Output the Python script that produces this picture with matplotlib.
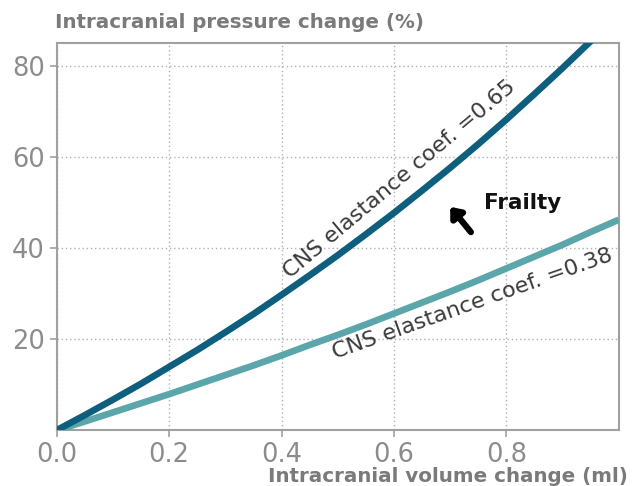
import matplotlib
matplotlib.use("Agg")
import matplotlib.pyplot as plt

volume_ml = [0.00, 0.05, 0.10, 0.15, 0.20, 0.25, 0.30, 0.35, 0.40, 0.45, 0.50,
             0.55, 0.60, 0.65, 0.70, 0.75, 0.80, 0.85, 0.90, 0.95, 1.00]
pressure_065 = [0.0, 3.3, 6.7, 10.2, 13.9, 17.6, 21.5, 25.5, 29.7, 34.0, 38.4,
                43.0, 47.7, 52.6, 57.6, 62.8, 68.2, 73.8, 79.5, 85.4, 91.6]
pressure_038 = [0.0, 1.9, 3.9, 5.9, 7.9, 10.0, 12.1, 14.2, 16.4, 18.7, 20.9,
                23.2, 25.6, 28.0, 30.4, 32.9, 35.5, 38.1, 40.7, 43.5, 46.2]
x_ticks = [0.0, 0.2, 0.4, 0.6, 0.8]
y_ticks = [20, 40, 60, 80]
label_065 = "CNS elastance coef. =0.65"
label_038 = "CNS elastance coef. =0.38"

dark = "#0e5e7e"
light = "#5ba6aa"
gray = "#8c8c8c"

fig = plt.figure(figsize=(6.32, 4.86), dpi=100)
ax = fig.add_axes([0.090, 0.115, 0.889, 0.7965])

ax.plot(volume_ml, pressure_038, color=light, lw=4.8, solid_capstyle="butt", zorder=3)
ax.plot(volume_ml, pressure_065, color=dark, lw=4.8, solid_capstyle="butt", zorder=4)

ax.set_xlim(0, 1.0)
ax.set_ylim(0, 85)
ax.set_xticks(x_ticks)
ax.set_xticklabels([f"{v:.1f}" for v in x_ticks])
ax.set_yticks(y_ticks)

ax.grid(True, linestyle=(0, (1, 2)), color="#b0b0b0", lw=1.0)
ax.set_axisbelow(True)
for s in ax.spines.values():
    s.set_color("#a0a0a0")
    s.set_linewidth(1.5)
ax.tick_params(axis="both", colors="#a0a0a0", labelcolor=gray, labelsize=18.5,
               length=5, width=1.2, pad=3.5)

fig.text(0.087, 0.953, "Intracranial pressure change (%)", fontsize=14.3,
         fontweight="bold", color="#7a7a7a", ha="left", va="center")
fig.text(0.994, 0.019, "Intracranial volume change (ml)", fontsize=14.3,
         fontweight="bold", color="#7a7a7a", ha="right", va="center")

ax.text(0.61, 55.0, label_065, rotation=40, fontsize=16, color="#3a3a3a",
        ha="center", va="center", rotation_mode="anchor", zorder=5)
ax.text(0.74, 27.6, label_038, rotation=19.5, fontsize=16, color="#3a3a3a",
        ha="center", va="center", rotation_mode="anchor", zorder=5)

ax.annotate("", xy=(0.697, 49.5), xytext=(0.74, 43.0),
            arrowprops=dict(arrowstyle="-|>,head_length=0.55,head_width=0.45",
                            color="black", lw=4.5), zorder=6)
ax.text(0.76, 49.8, "Frailty", fontsize=15.5, fontweight="bold", color="#111111",
        ha="left", va="center", zorder=6)

fig.savefig("out.png", dpi=100)
